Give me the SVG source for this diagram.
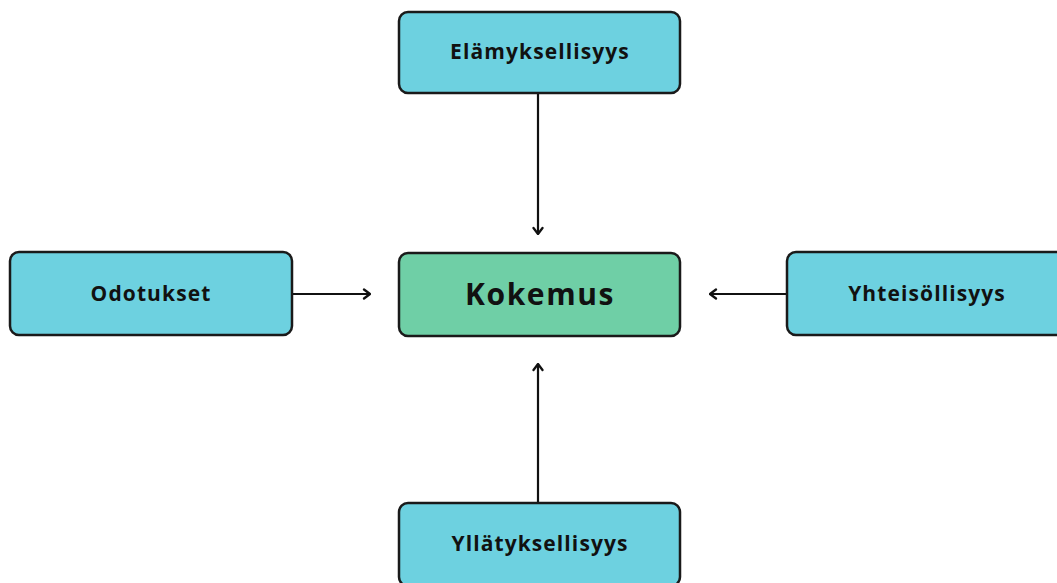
<svg xmlns="http://www.w3.org/2000/svg" width="1057" height="583" viewBox="0 0 1057 583">
  <style>
    .box { fill: #6dd1e0; stroke: #1a1a1a; stroke-width: 2.5; }
    .core { fill: #6fcfa6; stroke: #1a1a1a; stroke-width: 2.5; }
    .label { font-family: "Open Sans", "Liberation Sans", sans-serif; font-weight: bold; font-size: 21px; letter-spacing: 1.1px; fill: #111; text-anchor: middle; dominant-baseline: central; }
    .big { font-size: 30px; letter-spacing: 1.6px; }
    .link { stroke: #111; stroke-width: 2.2; fill: none; }
  </style>
  <defs>
    <marker id="head" viewBox="0 0 12 12" refX="11" refY="6" markerWidth="12" markerHeight="12" markerUnits="userSpaceOnUse" orient="auto">
      <path d="M5,1.5 L11,6 L5,10.5" fill="none" stroke="#111" stroke-width="2.3" stroke-linecap="round" stroke-linejoin="round"/>
    </marker>
  </defs>
  <rect width="1057" height="583" fill="#ffffff"/>

  <g id="connectors">
    <line class="link" x1="538" y1="93" x2="538" y2="234" marker-end="url(#head)"/>
    <line class="link" x1="292" y1="294" x2="370" y2="294" marker-end="url(#head)"/>
    <line class="link" x1="787" y1="294" x2="710" y2="294" marker-end="url(#head)"/>
    <line class="link" x1="538" y1="503" x2="538" y2="364" marker-end="url(#head)"/>
  </g>

  <g id="elamyksellisyys">
    <rect class="box" x="399" y="12" width="281" height="81" rx="9"/>
    <text class="label" x="540" y="51">Elämyksellisyys</text>
  </g>
  <g id="kokemus">
    <rect class="core" x="399" y="253" width="281" height="83" rx="9"/>
    <text class="label big" x="540" y="293">Kokemus</text>
  </g>
  <g id="odotukset">
    <rect class="box" x="10" y="252" width="282" height="83" rx="9"/>
    <text class="label" x="151" y="293">Odotukset</text>
  </g>
  <g id="yhteisollisyys">
    <rect class="box" x="787" y="252" width="282" height="83" rx="9"/>
    <text class="label" x="927" y="293">Yhteisöllisyys</text>
  </g>
  <g id="yllatyksellisyys">
    <rect class="box" x="399" y="503" width="281" height="83" rx="9"/>
    <text class="label" x="540" y="543">Yllätyksellisyys</text>
  </g>
</svg>
